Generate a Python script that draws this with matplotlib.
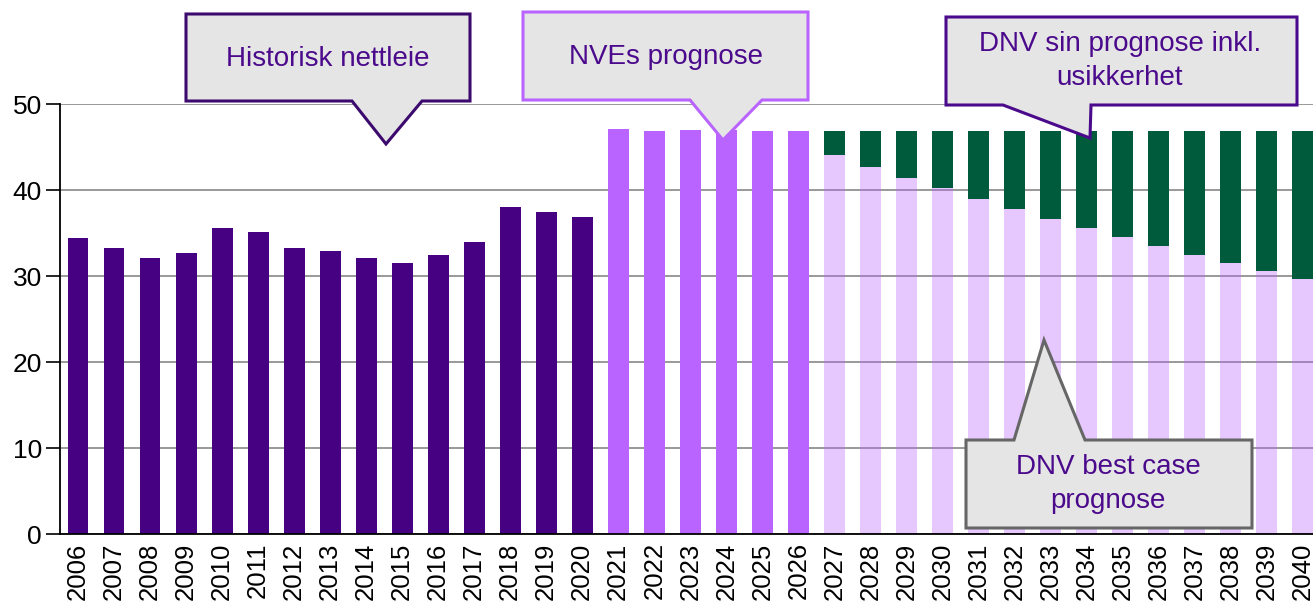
import matplotlib.pyplot as plt
from matplotlib.patches import Polygon
from matplotlib.transforms import Affine2D
import numpy as np

plt.rcParams['font.family'] = ['Liberation Sans', 'DejaVu Sans']

years = [str(y) for y in range(2006, 2041)]
historisk = [34.4, 33.3, 32.1, 32.7, 35.6, 35.1, 33.3, 32.9, 32.1, 31.5,
             32.4, 34.0, 38.0, 37.4, 36.9]
nve = [47.1, 46.9, 47.0, 47.0, 46.9, 46.9]
dnv_best = [44.1, 42.7, 41.4, 40.2, 39.0, 37.8, 36.6, 35.6, 34.5, 33.5,
            32.4, 31.5, 30.6, 29.7]
dnv_total = [46.9] * 14

c_hist = '#460082'
c_nve = '#B964FF'
c_green = '#005A3C'
c_text = '#4B0A8C'

W, H = 1313, 603
fig = plt.figure(figsize=(W / 100, H / 100), dpi=100)
ax = fig.add_axes([60 / W, 69 / H, 1 - 60 / W, 430 / H])

x = np.arange(len(years))
n_h, n_n = len(historisk), len(nve)
xh = x[:n_h]
xn = x[n_h:n_h + n_n]
xd = x[n_h + n_n:]
bw = 0.58
ax.bar(xh, historisk, bw, color=c_hist, zorder=2)
ax.bar(xn, nve, bw, color=c_nve, zorder=2)
ax.bar(xd, dnv_best, bw, color=c_nve, alpha=0.35, zorder=2)
usikker = np.array(dnv_total) - np.array(dnv_best)
ax.bar(xd, usikker, bw, bottom=dnv_best, color=c_green, zorder=2)

ax.set_xlim(-0.5, 34.29)
ax.set_ylim(0, 50)
ax.set_yticks(range(0, 51, 10))
ax.set_xticks(x)
ax.set_xticklabels(years, rotation=90)
ax.tick_params(axis='y', length=10, width=1.2, labelsize=19, pad=3)
ax.tick_params(axis='x', length=0, labelsize=18.5, pad=6)
ax.grid(axis='y', color='#999999', linewidth=1.4, zorder=0)
ax.set_axisbelow(True)
for s in ['top', 'right']:
    ax.spines[s].set_visible(False)
for s in ['left', 'bottom']:
    ax.spines[s].set_linewidth(1.3)
    ax.spines[s].set_zorder(3)

# pixel coords (origin top-left)
px = Affine2D().scale(1 / W, -1 / H).translate(0, 1) + fig.transFigure


def callout(x0, y0, x1, y1, bl, br, tip, edge, text, tx, ty, top=False):
    if top:
        pts = [(x0, y0), (bl, y0), tip, (br, y0), (x1, y0), (x1, y1), (x0, y1)]
    else:
        pts = [(x0, y0), (x1, y0), (x1, y1), (br, y1), tip, (bl, y1), (x0, y1)]
    fig.add_artist(Polygon(pts, closed=True, facecolor='#E5E5E5', edgecolor=edge,
                           linewidth=2.2, transform=px, zorder=5))
    fig.text(tx, ty, text, transform=px, ha='center', va='center',
             fontsize=20, color=c_text, linespacing=1.38, zorder=6)


callout(186, 14, 470, 101, 352, 422, (386, 144), '#3C0A6E',
        'Historisk nettleie', 328, 59)
callout(523, 12, 808, 100, 690, 762, (723, 140), c_nve,
        'NVEs prognose', 666, 57)
callout(946, 17, 1297, 105, 1003, 1091, (1090, 138), c_text,
        'DNV sin prognose inkl.\nusikkerhet', 1120, 61)
callout(966, 440, 1252, 528, 1014, 1085, (1044, 340), '#666666',
        'DNV best case\nprognose', 1108, 484, top=True)

fig.savefig('out.png', dpi=100)
